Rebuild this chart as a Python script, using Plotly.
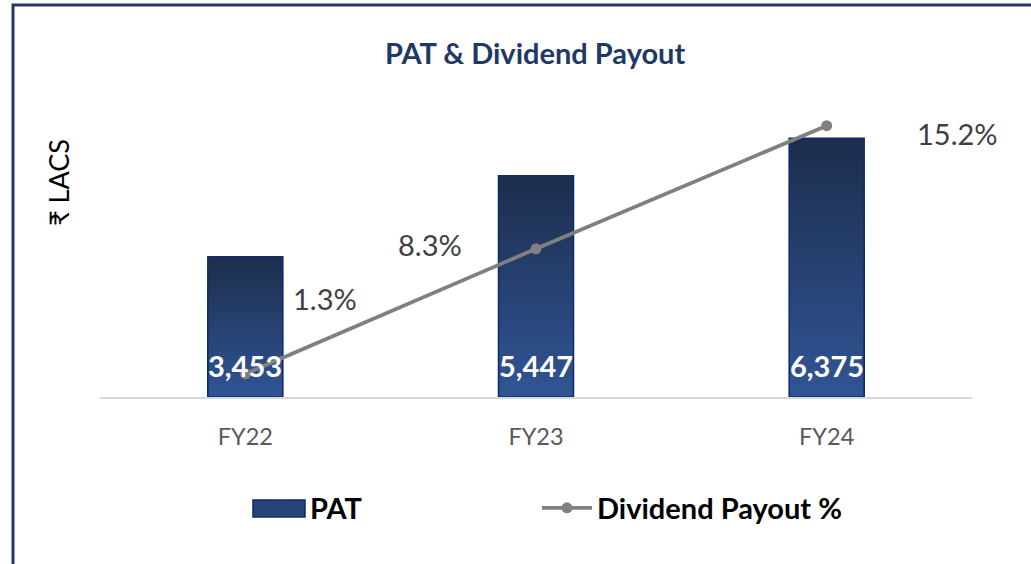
import plotly.graph_objects as go

categories = ["FY22", "FY23", "FY24"]
pat_values = [3453, 5447, 6375]
payout_pct = [1.3, 8.3, 15.2]

FONT = "Lato"
TOP_C = (29, 46, 78)
BOT_C = (48, 84, 148)
N = 24

fig = go.Figure()

# gradient bars (layered, dark at top to lighter at bottom)
for k in range(N):
    t = k / (N - 1)
    c = tuple(round(TOP_C[i] + (BOT_C[i] - TOP_C[i]) * t) for i in range(3))
    frac = (N - k) / N
    fig.add_trace(go.Bar(
        x=categories, y=[v * frac for v in pat_values],
        marker=dict(color="rgb(%d,%d,%d)" % c, line=dict(width=0)),
        width=0.258, showlegend=False, hoverinfo="skip"))

# outline + legend entry
fig.add_trace(go.Bar(
    x=categories, y=pat_values, name="PAT",
    marker=dict(color="rgba(0,0,0,0)", line=dict(color="#0E2A6E", width=1.5)),
    width=0.258, showlegend=False))
fig.add_trace(go.Bar(
    x=[None], y=[None], name="PAT", legend="legend",
    marker=dict(color="#26437A", line=dict(color="#26437A", width=0)),
    showlegend=True))

fig.add_trace(go.Scatter(
    x=categories, y=payout_pct, name="Dividend Payout %", yaxis="y2",
    legend="legend2",
    mode="lines+markers",
    line=dict(color="#808080", width=3.8),
    marker=dict(color="#808080", size=11)))

annotations = []
for c, v in zip(categories, pat_values):
    annotations.append(dict(
        x=c, y=0, xref="x", yref="y", text="{:,}".format(v), showarrow=False,
        yanchor="bottom", xanchor="center", yshift=12,
        font=dict(family=FONT, size=29, color="white", weight="bold")))

shifts = [(80, 75), (-106, 4), (131, -8)]
for c, p, (dx, dy) in zip(categories, payout_pct, shifts):
    annotations.append(dict(
        x=c, y=p, xref="x", yref="y2", text="%.1f%%" % p, showarrow=False,
        xanchor="center", yanchor="middle",
        xshift=dx, yshift=dy,
        font=dict(family=FONT, size=29, color="#404040")))

annotations.append(dict(
    x=(58 - 100) / 872, y=(397 - 183) / 297, xref="paper", yref="paper",
    text="₹ LACS", textangle=-90, showarrow=False,
    xanchor="center", yanchor="middle",
    font=dict(family=FONT, size=27, color="#000000")))

annotations.append(dict(
    x=(535 - 100) / 872, y=(397 - 53) / 297, xref="paper", yref="paper",
    text="PAT & Dividend Payout", showarrow=False,
    xanchor="center", yanchor="middle",
    font=dict(family=FONT, size=29, color="#1F3864", weight="bold")))

shapes = [
    dict(type="rect", xref="paper", yref="paper",
         x0=(13 - 100) / 872, x1=(1045 - 100) / 872,
         y0=(397 - 575) / 297, y1=(397 - 5) / 297,
         line=dict(color="#1F3864", width=3), fillcolor="rgba(0,0,0,0)",
         layer="below"),
    # wide legend swatch for PAT
    dict(type="rect", xref="paper", yref="paper",
         x0=(253 - 100) / 872, x1=(305 - 100) / 872,
         y0=(397 - 517) / 297, y1=(397 - 500) / 297,
         line=dict(color="#0E2A6E", width=1.5), fillcolor="#26437A",
         layer="above"),
]

legend_font = dict(family=FONT, size=29, color="#000000", weight="bold")

fig.update_layout(
    width=1031, height=564,
    margin=dict(l=100, r=59, t=100, b=167),
    paper_bgcolor="white", plot_bgcolor="white",
    barmode="overlay",
    showlegend=True,
    legend=dict(orientation="h", x=(250 - 100) / 872, xanchor="left",
                y=(397 - 508) / 297, yanchor="middle",
                font=legend_font, itemwidth=50, bgcolor="rgba(0,0,0,0)"),
    legend2=dict(orientation="h", x=(537 - 100) / 872, xanchor="left",
                 y=(397 - 508) / 297, yanchor="middle",
                 font=legend_font, itemwidth=50, bgcolor="rgba(0,0,0,0)"),
    xaxis=dict(range=[-0.5, 2.5], showline=True, linecolor="#D9D9D9",
               linewidth=1.5, showgrid=False, ticks="outside", ticklen=18,
               tickcolor="rgba(0,0,0,0)",
               tickfont=dict(family=FONT, size=23.5, color="#595959")),
    yaxis=dict(range=[0, 297 / 0.0406], visible=False, showgrid=False),
    yaxis2=dict(range=[0, 297 / 17.85], overlaying="y", side="right",
                visible=False, showgrid=False),
    annotations=annotations,
    shapes=shapes,
)

fig.write_html("out.html", config={"displayModeBar": False},
               post_script="document.body.style.margin='0px';"
                           "document.body.style.overflow='hidden';")
